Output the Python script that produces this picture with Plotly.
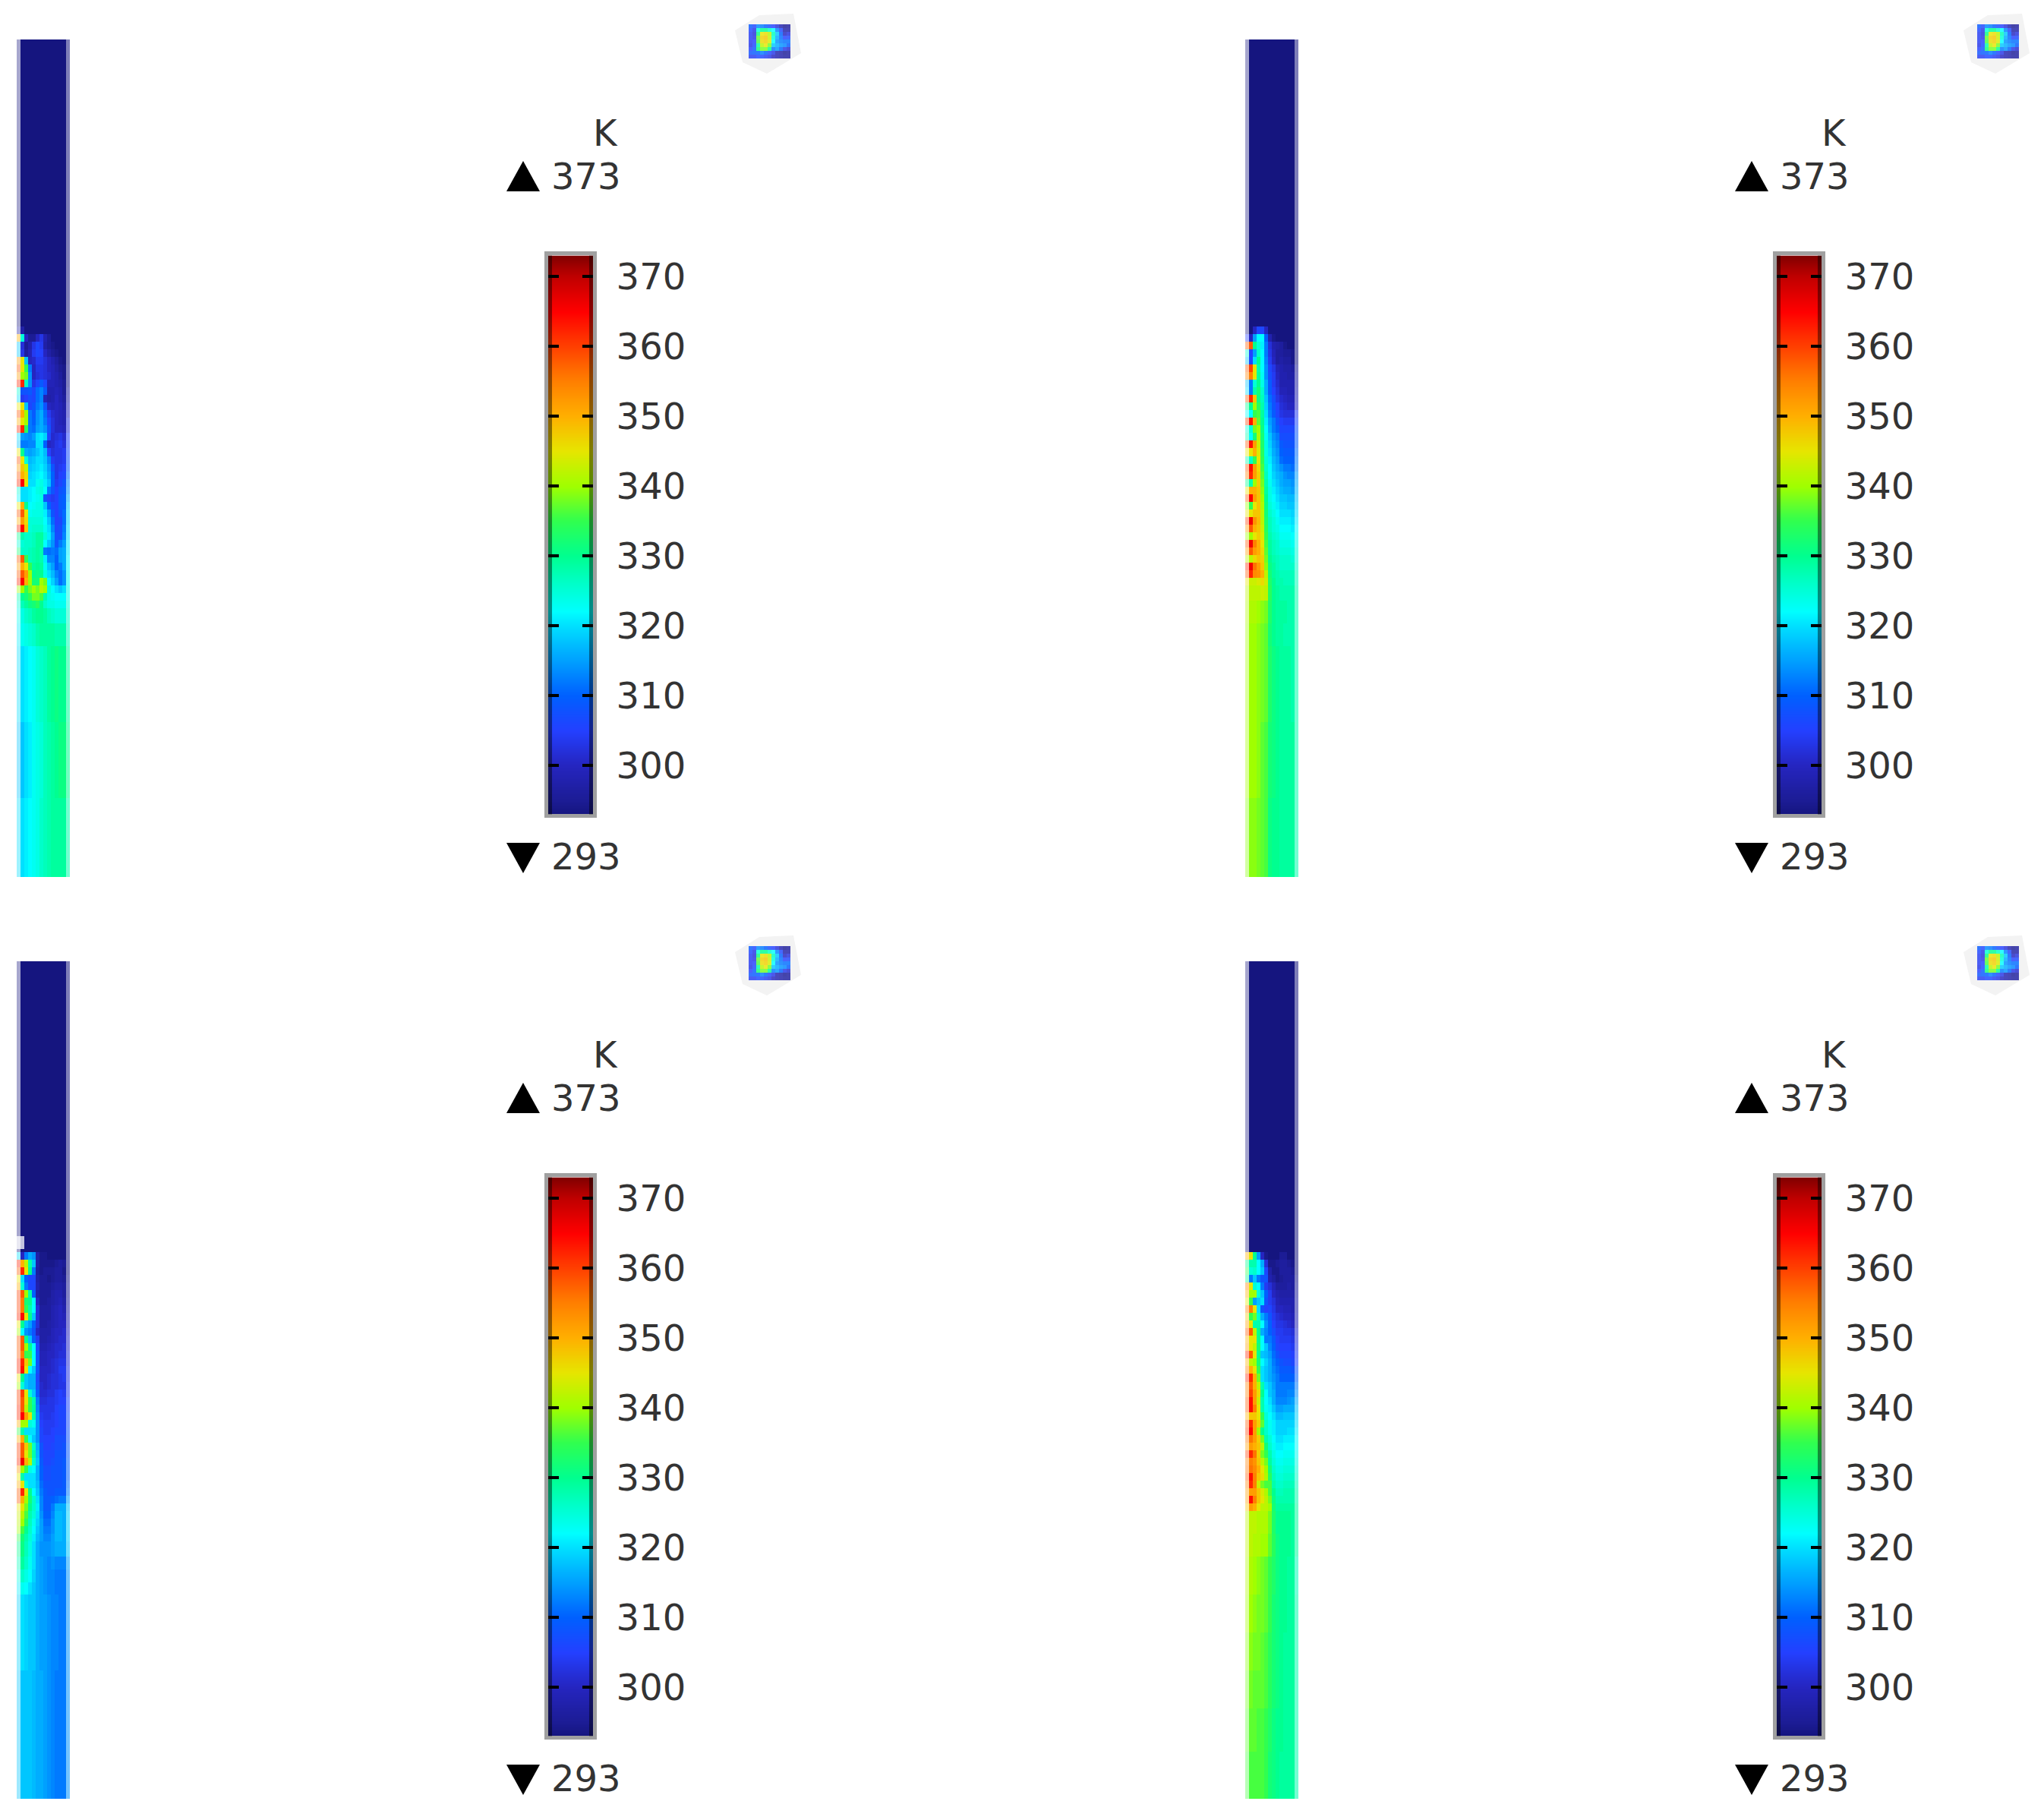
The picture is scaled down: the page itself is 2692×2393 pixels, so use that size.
import plotly.graph_objects as go

W, H = 2692, 2393

# rainbow scale (K, colour)
scale_levels = [293, 295, 300, 305, 310, 315, 320, 322, 325, 330, 335, 340, 345, 350, 355, 360, 365, 370, 373]
scale_colors = ["#15157f", "#1c1c95", "#2525c0", "#2440ff", "#0060ff", "#00a0ff", "#00e0ff", "#00ffff", "#00ffd8",
                "#00ff90", "#30ff50", "#a0ff00", "#e6e600", "#ffb000", "#ff8000", "#ff4000", "#ff0000", "#c00000", "#800000"]
bar_levels = list(range(293, 374))
bar_ticks = [300, 310, 320, 330, 340, 350, 360, 370]
unit_label = "K"
max_label = "373"
min_label = "293"

navy_row = [293] * 14

# temperature cells across the strip, top to bottom
panel1_temps = [
    navy_row,
    [297,297,293,293,293,293,293,293,293,293,293,293,293,293],
    [350,325,300,295,295,300,303,298,295,293,293,293,293,293],
    [318,302,295,298,303,306,304,297,295,294,293,293,293,293],
    [318,303,296,299,304,306,305,300,297,295,294,293,293,293],
    [352,345,318,300,301,304,304,302,300,298,296,294,293,293],
    [358,345,335,312,300,303,303,302,300,299,297,295,294,294],
    [352,340,338,314,300,302,303,302,301,299,298,296,294,294],
    [362,362,326,314,303,306,309,306,299,299,298,297,295,294],
    [325,308,308,309,306,311,313,309,298,298,299,298,295,296],
    [320,304,305,307,306,311,313,299,297,298,300,298,296,297],
    [345,345,318,306,308,312,314,308,300,299,300,299,297,299],
    [358,350,340,312,309,314,316,311,304,301,300,299,298,300],
    [350,345,340,312,310,314,316,312,306,302,300,299,298,302],
    [362,362,334,312,311,315,316,314,308,302,300,300,299,302],
    [320,315,314,313,315,320,321,319,306,301,302,303,301,305],
    [318,312,312,313,313,320,320,310,300,301,303,304,302,306],
    [345,330,316,315,316,318,320,317,305,302,303,303,304,307],
    [358,345,325,317,318,320,320,318,313,304,303,303,304,308],
    [352,348,342,318,319,320,321,319,315,308,303,304,305,309],
    [358,350,346,319,320,321,322,320,316,310,303,305,306,311],
    [362,365,345,320,320,323,324,321,318,310,304,306,308,313],
    [325,320,320,321,322,324,325,322,312,308,305,308,309,314],
    [322,320,320,321,322,323,324,308,305,304,305,309,310,316],
    [345,350,330,322,323,324,324,318,310,306,305,309,310,318],
    [358,358,345,323,324,324,324,321,315,308,305,308,311,319],
    [350,352,346,325,325,325,325,322,318,311,305,306,311,319],
    [362,365,348,325,326,326,326,323,320,313,306,307,312,320],
    [330,328,326,326,327,329,329,325,321,315,307,307,313,320],
    [325,325,326,326,327,329,329,322,318,314,308,312,315,321],
    [332,326,326,327,328,329,328,312,311,312,311,315,316,321],
    [358,358,335,327,328,329,328,321,313,313,310,315,316,322],
    [352,350,345,335,329,330,329,323,318,315,310,312,316,322],
    [358,358,352,340,330,331,330,324,320,317,313,311,314,323],
    [362,365,350,340,332,332,340,338,322,319,315,311,314,323],
    [340,340,335,338,340,338,342,340,325,322,320,318,320,324],
    [328,330,332,335,338,338,336,328,324,323,322,322,322,324],
    [325,327,329,331,332,334,330,326,324,324,323,323,323,325],
    [323,324,326,327,329,330,330,329,327,326,325,325,325,326],
    [321,323,324,325,326,328,329,329,329,329,328,328,328,327],
    [320,320,321,322,323,325,326,327,329,330,331,330,330,329],
    [318,318,320,321,323,324,325,327,328,329,330,331,331,330],
    [320,320,321,322,323,324,326,327,328,329,329,329,329,328],
]
panel1_edges = [0, 378] + list(range(388, 749, 10)) + [768, 798, 898, 998, 1102]

panel2_temps = [
    navy_row,
    [293,293,300,306,306,300,293,293,293,293,293,293,293,293],
    [305,300,315,322,322,310,298,294,293,293,293,293,293,293],
    [358,358,330,325,321,312,302,298,297,296,294,293,293,293],
    [325,305,315,326,322,312,303,299,296,296,295,295,294,293],
    [318,306,320,330,322,313,304,300,296,297,296,296,294,293],
    [358,360,345,328,322,314,306,303,299,298,297,297,296,295],
    [355,355,345,329,323,314,307,304,300,298,298,297,297,296],
    [318,312,325,330,324,316,309,304,301,298,298,298,298,297],
    [320,312,328,332,326,316,309,305,302,299,299,298,298,298],
    [358,362,348,331,327,318,311,307,303,301,300,299,299,299],
    [330,330,340,334,328,319,312,308,305,302,301,300,300,300],
    [322,322,335,336,329,320,313,309,306,303,302,302,302,304],
    [360,364,350,337,330,321,315,312,308,305,304,304,304,306],
    [325,325,338,340,331,322,316,312,310,306,306,306,306,308],
    [328,322,332,341,332,323,318,314,312,307,307,307,307,309],
    [358,364,352,343,333,324,319,315,313,309,308,308,308,310],
    [345,345,350,344,334,324,320,316,314,310,309,309,309,311],
    [328,326,335,345,335,325,321,317,315,311,310,310,310,312],
    [358,364,352,346,336,326,322,318,316,314,312,312,311,313],
    [355,362,352,347,337,327,322,319,317,316,314,313,313,315],
    [330,328,340,347,338,328,323,320,318,316,315,315,314,316],
    [345,350,350,348,339,329,324,321,319,317,316,316,315,317],
    [358,365,352,348,340,330,324,322,320,318,318,317,317,318],
    [340,335,345,348,341,331,325,323,321,319,319,318,318,319],
    [345,345,348,348,342,332,326,324,322,320,320,320,319,320],
    [360,366,353,349,342,333,327,325,323,321,321,321,320,321],
    [352,358,350,348,343,334,327,325,324,322,322,322,321,322],
    [340,340,345,347,344,335,328,326,325,323,323,323,322,323],
    [358,366,355,350,345,336,329,327,326,324,324,324,323,324],
    [352,358,352,350,346,337,329,327,326,325,325,325,324,325],
    [342,342,346,348,347,338,330,328,327,326,326,326,325,325],
    [362,366,356,352,348,339,331,329,327,326,326,326,326,326],
    [358,362,354,353,350,342,332,329,328,327,327,327,327,327],
    [345,343,343,344,346,343,333,330,328,328,327,327,327,327],
    [342,342,342,342,343,342,334,330,329,328,328,328,328,328],
    [341,341,341,340,339,338,333,330,329,329,329,328,328,328],
    [340,340,340,339,338,337,332,330,329,329,328,328,328,328],
    [340,340,340,339,338,337,333,331,330,329,329,329,328,328],
    [340,340,340,339,337,336,332,331,330,329,329,329,329,328],
    [339,339,339,338,337,336,331,330,330,329,329,329,329,328],
]
panel2_edges = [0, 378] + list(range(388, 719, 10)) + [738, 768, 798, 898, 998, 1102]

panel3_temps = [
    navy_row,
    [293,293,293,293,293,293,293,293,293,293,293,293,293,293],
    [293,293,293,293,293,293,293,293,293,293,293,293,293,293],
    [320,300,312,316,314,297,294,294,293,293,293,293,293,293],
    [362,350,342,328,318,297,294,294,294,294,295,296,295,293],
    [358,362,345,330,312,296,294,295,295,295,296,296,294,293],
    [345,320,310,306,306,297,295,295,294,295,296,296,295,294],
    [350,325,312,306,306,298,295,295,295,296,297,297,296,295],
    [360,358,340,328,310,297,295,295,295,297,298,298,296,295],
    [360,355,332,330,322,300,295,295,296,297,298,299,297,296],
    [360,355,335,328,322,302,296,296,296,298,299,300,298,297],
    [362,364,345,330,318,302,296,296,296,298,299,300,299,298],
    [345,330,318,315,310,302,296,296,297,298,299,300,300,299],
    [340,322,314,312,308,300,297,297,297,299,300,300,301,300],
    [358,358,330,318,310,304,297,297,298,299,300,301,301,301],
    [358,358,340,330,322,306,298,298,299,300,301,301,302,301],
    [358,355,335,335,322,308,299,299,300,300,301,302,302,302],
    [362,362,348,338,322,308,299,299,300,301,302,303,303,302],
    [362,364,345,322,318,308,300,300,300,301,302,304,304,303],
    [345,330,318,316,316,306,300,300,301,302,302,303,304,303],
    [340,325,318,316,316,307,301,300,301,302,302,303,303,304],
    [360,360,345,325,318,309,301,301,302,302,304,305,304,304],
    [360,358,345,335,328,312,302,302,303,303,304,305,305,306],
    [362,358,342,335,329,313,303,303,303,303,305,306,306,306],
    [362,365,352,345,328,314,304,303,303,304,305,306,306,307],
    [350,340,340,325,323,314,305,304,304,304,305,306,306,307],
    [335,328,320,320,320,314,306,304,304,305,306,306,306,308],
    [350,350,335,322,318,314,306,305,305,305,307,307,307,308],
    [360,358,348,338,326,316,308,305,305,306,307,307,308,309],
    [360,358,345,338,328,317,308,306,306,306,308,308,308,309],
    [362,366,350,342,326,318,309,306,306,307,308,308,309,310],
    [352,340,335,324,322,316,310,307,307,308,308,308,309,310],
    [345,328,320,320,320,316,310,307,307,308,308,308,309,310],
    [350,345,325,320,320,317,311,308,308,308,308,308,309,311],
    [358,362,345,330,322,318,312,309,308,308,309,309,309,312],
    [358,350,340,332,326,320,313,309,309,310,311,312,312,315],
    [345,345,338,330,326,321,313,309,309,312,316,316,316,318],
    [343,342,336,328,325,320,314,310,310,313,317,317,316,319],
    [342,340,334,327,323,319,315,311,311,314,317,317,316,319],
    [340,336,330,326,322,318,315,312,312,314,317,317,316,319],
    [335,332,328,325,321,317,315,313,313,315,317,317,316,319],
    [330,331,327,324,320,316,314,314,314,315,316,316,316,318],
    [327,329,326,323,320,316,315,314,313,314,313,313,313,315],
    [324,326,324,322,319,316,315,314,313,313,312,312,312,314],
    [321,323,322,320,318,316,315,314,313,313,312,312,312,314],
    [319,320,319,318,318,316,315,315,314,313,313,312,312,314],
    [318,318,318,318,317,316,316,315,314,313,312,312,312,314],
]
panel3_edges = [0, 363] + list(range(373, 764, 10)) + [783, 800, 817, 833, 933, 1102]

panel4_temps = [
    navy_row,
    [293,293,293,293,293,293,293,293,293,293,293,293,293,293],
    [293,293,293,293,293,293,293,293,293,293,293,293,293,293],
    [350,345,330,315,300,294,293,293,293,295,295,293,293,293],
    [330,328,328,322,316,302,294,294,295,296,296,295,294,293],
    [335,325,326,322,318,306,297,294,294,296,296,296,295,293],
    [330,312,318,312,308,308,298,296,294,295,296,296,296,294],
    [355,345,325,322,312,304,302,299,296,296,296,297,296,295],
    [350,340,340,325,318,310,304,300,298,297,297,297,297,296],
    [345,335,315,318,320,308,304,302,299,298,298,298,298,297],
    [355,355,345,320,308,305,306,303,300,300,299,299,298,297],
    [348,335,338,326,316,312,308,304,302,301,300,300,299,298],
    [352,345,328,328,322,314,310,305,303,303,302,301,300,299],
    [358,358,342,330,316,313,310,307,304,304,303,303,302,301],
    [350,345,345,330,322,312,312,309,305,304,304,304,303,302],
    [352,345,342,332,322,318,313,310,306,305,305,305,304,303],
    [362,358,345,330,318,317,315,311,308,306,306,306,305,304],
    [350,342,340,332,322,319,316,312,310,308,307,307,306,305],
    [355,350,345,335,320,318,316,313,311,309,309,309,308,308],
    [362,362,350,338,320,318,316,314,312,310,310,310,310,310],
    [355,358,350,342,328,320,318,315,312,312,312,312,312,312],
    [355,360,352,346,330,322,318,316,312,312,312,313,313,314],
    [358,364,352,343,328,322,320,316,313,313,313,314,315,316],
    [358,364,355,345,328,323,321,318,315,315,316,316,316,318],
    [350,348,348,345,335,325,322,320,317,317,318,318,318,319],
    [358,362,352,347,337,326,323,321,319,319,319,319,319,320],
    [360,365,352,340,330,326,323,321,319,319,319,320,320,321],
    [356,356,352,347,338,328,325,322,320,320,321,321,321,322],
    [352,352,350,348,342,332,326,323,321,321,322,322,322,322],
    [360,362,356,347,338,335,328,324,322,322,323,323,323,323],
    [355,355,353,348,342,338,329,325,323,323,324,324,324,324],
    [356,356,354,350,345,340,332,326,324,324,325,325,325,325],
    [358,364,355,348,346,341,334,327,325,325,326,326,326,326],
    [355,362,355,343,338,336,336,328,326,326,327,327,327,327],
    [352,352,352,348,344,341,336,330,327,327,328,328,328,328],
    [352,364,355,348,345,342,338,331,328,328,328,328,328,328],
    [348,352,350,345,342,342,340,332,329,329,329,329,329,329],
    [342,342,342,341,341,341,338,333,330,330,330,330,329,329],
    [342,342,341,341,340,340,337,334,331,330,330,330,329,329],
    [341,341,340,339,338,337,335,333,331,330,330,329,329,327],
    [340,340,339,338,338,337,335,332,331,330,330,329,329,328],
    [339,339,338,338,337,336,334,332,331,330,329,329,329,328],
    [338,338,337,337,337,336,334,332,331,330,329,329,329,328],
    [337,337,337,336,336,335,333,331,330,330,329,329,329,328],
    [336,336,336,336,336,335,332,331,330,329,329,329,329,328],
]
panel4_edges = [0, 363] + list(range(373, 724, 10)) + [753, 783, 833, 883, 933, 983, 1040, 1102]

# little software logo, same scale
logo_temps = [
    [309,306,313,312,310,307,305,302,298,295,296],
    [306,303,325,330,330,326,322,313,306,297,297],
    [304,302,331,345,346,342,327,318,310,300,302],
    [304,303,337,347,348,343,325,316,311,305,306],
    [304,305,336,346,347,344,322,314,312,311,311],
    [303,306,328,342,345,338,318,316,314,313,309],
    [305,309,332,338,338,330,312,314,310,303,301],
    [308,309,310,312,310,306,303,298,297,295,296],
    [304,304,306,306,304,303,300,298,297,296,296],
]

colorscale = [[(k - 293) / 80, c] for k, c in zip(scale_levels, scale_colors)]
font = dict(family="DejaVu Sans", size=48, color="#333333")
offsets = [(0, 0), (1618, 0), (0, 1214), (1618, 1214)]
panels = [(panel1_temps, panel1_edges), (panel2_temps, panel2_edges),
          (panel3_temps, panel3_edges), (panel4_temps, panel4_edges)]


def px(x):
    return x / W


def py(y):
    return 1 - y / H


fig = go.Figure()
shapes = []
annotations = []
layout = {}
n = 0


def add_axes(x0, x1, y0, y1, xax, yax):
    global n
    n += 1
    tag = "" if n == 1 else str(n)
    layout[f"xaxis{tag}"] = dict(domain=[px(x0), px(x1)], anchor=f"y{tag}", **xax)
    layout[f"yaxis{tag}"] = dict(domain=[py(y1), py(y0)], anchor=f"x{tag}", **yax)
    return f"x{tag}", f"y{tag}"


hidden = dict(visible=False, fixedrange=True)

for (dx, dy), (temps, edges) in zip(offsets, panels):
    assert len(edges) == len(temps) + 1 and all(len(r) == 14 for r in temps), (len(edges), len(temps))

    # halo behind the logo goes first, under everything
    shapes.append(dict(type="path", xref="paper", yref="paper", layer="below", line_width=0, fillcolor="#f3f3f3",
                       path="M %f %f L %f %f L %f %f L %f %f L %f %f L %f %f Z" % (
                           px(dx + 968), py(dy + 40), px(dx + 1000), py(dy + 20), px(dx + 1045), py(dy + 18),
                           px(dx + 1055), py(dy + 70), px(dx + 1010), py(dy + 97), px(dx + 978), py(dy + 82))))

    # temperature strip
    xa, ya = add_axes(dx + 22, dx + 92, dy + 52, dy + 1155,
                      dict(range=[0, 14], **hidden), dict(range=[1102, 0], **hidden))
    fig.add_trace(go.Heatmap(z=temps, x=list(range(15)), y=edges, xaxis=xa, yaxis=ya, zmin=293, zmax=373,
                             colorscale=colorscale, showscale=False, hoverinfo="skip"))
    # the two outer cell columns are washed out in the picture
    for cx0, cx1, alpha in [(0, 1 / 14, 0.62), (13 / 14, 1, 0.45)]:
        shapes.append(dict(type="rect", xref=f"{xa} domain", yref=f"{ya} domain", x0=cx0, x1=cx1, y0=0, y1=1,
                           line_width=0, fillcolor=f"rgba(255,255,255,{alpha})"))

    # colour bar
    xa, ya = add_axes(dx + 722, dx + 781, dy + 336.4, dy + 1072.4,
                      dict(range=[0, 1], showline=True, mirror=True, linecolor="#a0a0a0", linewidth=5,
                           showticklabels=False, ticks="", showgrid=False, zeroline=False, fixedrange=True),
                      dict(range=[293, 373], side="right", showline=True, mirror="ticks", linecolor="#a0a0a0",
                           linewidth=5, tickmode="array", tickvals=bar_ticks, ticks="inside", ticklen=14,
                           tickwidth=4, tickcolor="#000000", showgrid=False, zeroline=False, fixedrange=True,
                           tickfont=font, ticklabelstandoff=16))
    fig.add_trace(go.Heatmap(z=[[v, v] for v in bar_levels], x=[0, 1], y=bar_levels, xaxis=xa, yaxis=ya,
                             zmin=293, zmax=373, colorscale=colorscale, zsmooth="best", showscale=False,
                             hoverinfo="skip"))
    for cx0, cx1 in [(0, 0.085), (0.915, 1)]:
        shapes.append(dict(type="rect", xref=f"{xa} domain", yref=f"{ya} domain", x0=cx0, x1=cx1, y0=0, y1=1,
                           line_width=0, fillcolor="rgba(0,0,0,0.45)"))

    # logo
    xa, ya = add_axes(dx + 986, dx + 1041, dy + 32, dy + 77,
                      dict(range=[-0.5, 10.5], **hidden), dict(range=[8.5, -0.5], **hidden))
    fig.add_trace(go.Heatmap(z=logo_temps, xaxis=xa, yaxis=ya, zmin=293, zmax=373, colorscale=colorscale,
                             showscale=False, hoverinfo="skip"))
    shapes.append(dict(type="rect", xref=f"{xa} domain", yref=f"{ya} domain", x0=0, x1=1, y0=0, y1=1,
                       line_width=0, fillcolor="rgba(255,255,255,0.18)"))

    # max / min markers and labels
    shapes.append(dict(type="path", xref="paper", yref="paper", line_width=0, fillcolor="#000000",
                       path="M %f %f L %f %f L %f %f Z" % (
                           px(dx + 667), py(dy + 252), px(dx + 711), py(dy + 252), px(dx + 689), py(dy + 212))))
    shapes.append(dict(type="path", xref="paper", yref="paper", line_width=0, fillcolor="#000000",
                       path="M %f %f L %f %f L %f %f Z" % (
                           px(dx + 667), py(dy + 1110), px(dx + 711), py(dy + 1110), px(dx + 689), py(dy + 1150))))
    for text, x, y in [(unit_label, dx + 816, dy + 175), (max_label, dx + 820, dy + 232), (min_label, dx + 820, dy + 1128)]:
        annotations.append(dict(text=text, x=px(x), y=py(y), xref="paper", yref="paper", xanchor="right",
                                yanchor="middle", showarrow=False, font=font))

# patch of white cells at the top of the bottom-left wave front
shapes.append(dict(type="rect", xref="paper", yref="paper", x0=px(22), x1=px(32), y0=py(1645), y1=py(1628),
                   line_width=0, fillcolor="rgba(255,255,255,0.75)"))

fig.update_layout(width=W, height=H, margin=dict(l=0, r=0, t=0, b=0), paper_bgcolor="white", plot_bgcolor="white",
                  shapes=shapes, annotations=annotations, showlegend=False, **layout)

# page default margin would push everything 8px in
fig.write_html("out.html", config=dict(displayModeBar=False), post_script="document.body.style.margin='0';")
